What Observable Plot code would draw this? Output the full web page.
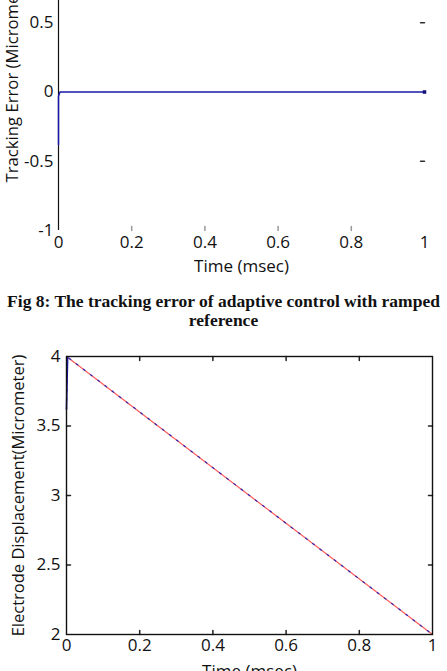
<!DOCTYPE html>
<html>
<head>
<meta charset="utf-8">
<script src="https://cdn.jsdelivr.net/npm/d3@7"></script>
<script src="https://cdn.jsdelivr.net/npm/@observablehq/plot@0.6"></script>
<style>
  html, body { margin: 0; padding: 0; background: #fff; width: 447px; height: 671px; overflow: hidden; position: relative; }
  .abs { position: absolute; left: 0; }
  svg { overflow: visible; }
  #caption { top: 292px; width: 447px; text-align: center; font-family: "Liberation Serif", "Times New Roman", serif; font-weight: bold; font-size: 17.5px; line-height: 19px; color: #111; white-space: nowrap; }
</style>
</head>
<body>
<div id="top" class="abs" style="top:-60px"></div>
<div id="caption" class="abs">Fig 8: The tracking error of adaptive control with ramped<br>reference</div>
<div id="bottom" class="abs" style="top:326px"></div>
<script>
// ---- Data ----
const xTicks = [0, 0.2, 0.4, 0.6, 0.8, 1];
const xTickLabels = ["0", "0.2", "0.4", "0.6", "0.8", "1"];

// Fig 8: tracking error
const errTime   = [0, 0, 0.004, 0.5, 1];
const errValues = [-0.38, -0.03, 0, 0, 0];
const errYTicks = [-1, -0.5, 0, 0.5];
const errYTickLabels = ["-1", "-0.5", "0", "0.5"];

// Electrode displacement
const refTime   = [0, 1];
const refValues = [4, 2];
const dispTime   = [0, 0, 0.003, 0.5, 1];
const dispValues = [3.62, 3.62, 3.995, 3.0, 2.0];
const dispYTicks = [2, 2.5, 3, 3.5, 4];
const dispYTickLabels = ["2", "2.5", "3", "3.5", "4"];

const font = "'Open Sans', sans-serif";
const tickShape = {draw(ctx, l) { ctx.moveTo(0, 0); ctx.lineTo(0, -l); }};

function fmt(ticks, labels) { return d => labels[ticks.indexOf(d)]; }

// ---- Top chart (cropped at the top) ----
const errData = errTime.map((t, i) => ({t, v: errValues[i]}));
const topPlot = Plot.plot({
  width: 447, height: 345,
  marginLeft: 58, marginRight: 23, marginTop: 13, marginBottom: 55,
  style: {fontFamily: font, fontSize: "17px", color: "#111", background: "transparent", overflow: "visible"},
  x: {domain: [0, 1]},
  y: {domain: [-1, 1]},
  marks: [
    Plot.ruleX([0], {stroke: "#111", strokeWidth: 1.2}),
    Plot.axisX(xTicks, {tickSize: 0, tickPadding: 5, tickFormat: fmt(xTicks, xTickLabels), fontSize: 17, label: null}),
    Plot.axisY(errYTicks, {tickSize: 0, tickPadding: 5, tickFormat: fmt(errYTicks, errYTickLabels), fontSize: 17, label: null}),
    Plot.vector(xTicks.slice(1, 5), {x: d => d, y: -1, length: 4, rotate: 0, anchor: "start", shape: tickShape, stroke: "#999"}),
    Plot.vector([0.5, -0.5], {x: 1, y: d => d, length: 4, rotate: 270, anchor: "start", shape: tickShape, stroke: "#333"}),
    Plot.line(errData, {x: "t", y: "v", stroke: "#1a1aa8", strokeWidth: 1.5}),
    Plot.dot([errData[errData.length - 1]], {x: "t", y: "v", symbol: "square", r: 2, fill: "#12127a"}),
    Plot.text(["Time (msec)"], {frameAnchor: "bottom", dy: 41, fontSize: 17, fill: "#111"}),
    Plot.text(["Tracking Error (Micrometer)"], {frameAnchor: "left", textAnchor: "middle", rotate: -90, dx: -46, dy: -17, fontSize: 16.7, fill: "#111"})
  ]
});
document.getElementById("top").append(topPlot);

// ---- Bottom chart ----
const refData = refTime.map((t, i) => ({t, v: refValues[i]}));
const dispData = dispTime.map((t, i) => ({t, v: dispValues[i]}));
const botPlot = Plot.plot({
  width: 447, height: 360,
  marginLeft: 66, marginRight: 15, marginTop: 30, marginBottom: 52,
  style: {fontFamily: font, fontSize: "17px", color: "#111", background: "transparent", overflow: "visible"},
  x: {domain: [0, 1]},
  y: {domain: [2, 4]},
  marks: [
    Plot.axisX(xTicks, {tickSize: 0, tickPadding: 4, tickFormat: fmt(xTicks, xTickLabels), fontSize: 17, label: null}),
    Plot.axisY(dispYTicks, {tickSize: 0, tickPadding: 6, tickFormat: fmt(dispYTicks, dispYTickLabels), fontSize: 17, label: null}),
    Plot.vector(xTicks.slice(1, 5), {x: d => d, y: 2, length: 4, rotate: 0, anchor: "start", shape: tickShape, stroke: "#222"}),
    Plot.vector(xTicks.slice(1, 5), {x: d => d, y: 4, length: 4, rotate: 180, anchor: "start", shape: tickShape, stroke: "#222"}),
    Plot.vector(dispYTicks.slice(1, 4), {x: 0, y: d => d, length: 4, rotate: 90, anchor: "start", shape: tickShape, stroke: "#222"}),
    Plot.vector(dispYTicks.slice(1, 4), {x: 1, y: d => d, length: 4, rotate: 270, anchor: "start", shape: tickShape, stroke: "#222"}),
    Plot.line(refData, {x: "t", y: "v", stroke: "#ff5a5a", strokeWidth: 1.2}),
    Plot.line(dispData, {x: "t", y: "v", stroke: "#2a2ab8", strokeWidth: 1.2, strokeDasharray: "2,7"}),
    Plot.line(dispData.slice(0, 3), {x: "t", y: "v", stroke: "#1a1aa8", strokeWidth: 1.6}),
    Plot.frame({stroke: "#111", strokeWidth: 1.4}),
    Plot.text(["Time (msec)"], {frameAnchor: "bottom", dy: 42, fontSize: 17, fill: "#111"}),
    Plot.text(["Electrode Displacement(Micrometer)"], {frameAnchor: "left", textAnchor: "middle", rotate: -90, dx: -48, fontSize: 16.5, fill: "#111"})
  ]
});
document.getElementById("bottom").append(botPlot);
</script>
</body>
</html>
